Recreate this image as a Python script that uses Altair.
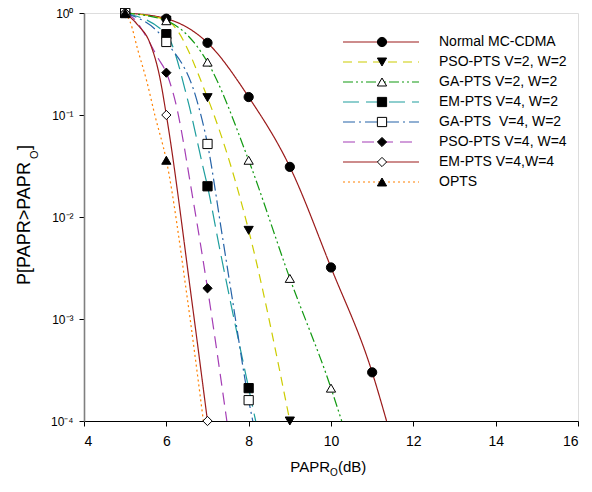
import altair as alt
import pandas as pd

# ---------------- data ----------------
series = ["Normal MC-CDMA", "PSO-PTS V=2, W=2", "GA-PTS V=2, W=2", "EM-PTS V=4, W=2",
          "GA-PTS\u00a0 V=4, W=2", "PSO-PTS V=4, W=4", "EM-PTS V=4,W=4", "OPTS"]

# marker points (integer PAPR0 values)
mk_x = [
    [5, 6, 7, 8, 9, 10, 11],
    [5, 6, 7, 8, 9],
    [5, 6, 7, 8, 9, 10],
    [5, 6, 7, 8],
    [5, 6, 7, 8],
    [5, 6, 7],
    [5, 6, 7],
    [5, 6],
]
mk_y = [
    [1, 0.88, 0.51, 0.15, 0.031, 0.0032, 0.0003],
    [1, 0.85, 0.148, 0.0074, 0.0001],
    [1, 0.84, 0.33, 0.036, 0.0025, 0.00021],
    [1, 0.62, 0.02, 0.00021],
    [1, 0.52, 0.052, 0.00016],
    [1, 0.26, 0.002],
    [1, 0.1, 0.0001],
    [1, 0.036],
]

# curve points (including where it leaves the plot at 1e-4)
ln_x = [
    [5, 6, 7, 8, 9, 10, 11, 11.35],
    [5, 6, 7, 8, 9],
    [5, 6, 7, 8, 9, 10, 10.26],
    [5, 6, 6.52, 6.89, 7, 7.3, 7.54, 8, 8.17],
    [5, 6, 6.74, 7, 7.35, 7.6, 8, 8.1],
    [5, 5.2, 5.53, 5.8, 6, 6.21, 6.65, 7, 7.47],
    [5, 5.31, 5.6, 5.84, 6, 6.62, 7],
    [5, 5.12, 5.31, 5.53, 5.72, 6, 6.5, 6.9],
]
ln_y = [
    [1, 0.88, 0.51, 0.15, 0.031, 0.0032, 0.0003, 0.0001],
    [1, 0.85, 0.148, 0.0074, 0.0001],
    [1, 0.84, 0.33, 0.036, 0.0025, 0.00021, 0.0001],
    [1, 0.62, 0.14, 0.031, 0.02, 0.0048, 0.0016, 0.00021, 0.0001],
    [1, 0.52, 0.14, 0.052, 0.0069, 0.0016, 0.00016, 0.0001],
    [1, 0.89, 0.57, 0.36, 0.26, 0.14, 0.0147, 0.002, 0.0001],
    [1, 0.76, 0.51, 0.235, 0.1, 0.0015, 0.0001],
    [1, 0.82, 0.43, 0.21, 0.1, 0.036, 0.0017, 0.0001],
]

x_ticks = [4, 6, 8, 10, 12, 14, 16]
y_ticks = [1e-4, 1e-3, 1e-2, 1e-1, 1]
y_tick_text = {0: "10\u2070", -1: "10\u207b\u00b9", -2: "10\u207b\u00b2",
               -3: "10\u207b\u00b3", -4: "10\u207b\u2074"}

# ---------------- styles ----------------
colors = ["#9B1B1B", "#CCCC00", "#119911", "#1E9E9E", "#2563A8", "#A43DB5", "#9B1B1B", "#FF8000"]
dashes = [[1, 0], [9, 6], [10, 3, 2, 3, 2, 3], [16, 7], [12, 4, 2, 4], [12, 7], [1, 0], [2, 3]]
shapes = ["circle", "triangle-down", "triangle-up", "square", "square", "diamond", "diamond", "triangle-up"]
fills = ["black", "black", "white", "black", "white", "black", "white", "black"]

FONT = "Liberation Sans"
W, H = 494, 408

lines_df = pd.DataFrame([
    {"series": s, "x": x, "y": y}
    for s, xs, ys in zip(series, ln_x, ln_y) for x, y in zip(xs, ys)
])
marks_df = pd.DataFrame([
    {"series": s, "x": x, "y": y}
    for s, xs, ys in zip(series, mk_x, mk_y) for x, y in zip(xs, ys)
])
legend_df = pd.DataFrame({"series": series, "row": list(range(len(series)))})

color_enc = alt.Color("series:N", scale=alt.Scale(domain=series, range=colors), legend=None)
dash_enc = alt.StrokeDash("series:N", scale=alt.Scale(domain=series, range=dashes), legend=None)
shape_enc = alt.Shape("series:N", scale=alt.Scale(domain=series, range=shapes), legend=None)
fill_enc = alt.Fill("series:N", scale=alt.Scale(domain=series, range=fills), legend=None)

xscale = alt.Scale(domain=[4, 16], nice=False, zero=False)
yscale = alt.Scale(type="log", domain=[1e-4, 1], nice=False)

expr = "'10'"
for e in [-4, -3, -2, -1, 0]:
    expr = f"round(log(datum.value)/LN10) == {e} ? '{y_tick_text[e]}' : " + expr

x_axis = alt.Axis(values=x_ticks, title=None, grid=False, tickSize=5, labelFontSize=14,
                  labelFont=FONT, labelColor="black", labelPadding=8,
                  domainColor="black", tickColor="black")
y_axis = alt.Axis(values=y_ticks, title=None, grid=False, tickSize=5, labelFontSize=12,
                  labelFont=FONT, labelColor="black", labelPadding=6,
                  domainColor="#7f7f7f", domainWidth=1.6, tickColor="black",
                  labelExpr=expr)

base_lines = alt.Chart(lines_df).mark_line(strokeWidth=1.2, interpolate="monotone").encode(
    x=alt.X("x:Q", scale=xscale, axis=x_axis),
    y=alt.Y("y:Q", scale=yscale, axis=y_axis),
    color=color_enc,
    strokeDash=dash_enc,
    detail="series:N",
)

base_marks = alt.Chart(marks_df).mark_point(filled=True, stroke="black", strokeWidth=1,
                                            size=85, opacity=1).encode(
    x=alt.X("x:Q", scale=xscale, axis=x_axis),
    y=alt.Y("y:Q", scale=yscale, axis=None),
    shape=shape_enc,
    fill=fill_enc,
)

leg_y = alt.Y("row:Q", scale=alt.Scale(domain=[0, 7], range=[29, 169], nice=False, zero=False),
              axis=None)

leg_rules = alt.Chart(legend_df).mark_rule(strokeWidth=1.2).encode(
    x=alt.value(259), x2=alt.value(335), y=leg_y, color=color_enc, strokeDash=dash_enc)
leg_marks = alt.Chart(legend_df).mark_point(filled=True, stroke="black", strokeWidth=1,
                                            size=85, opacity=1).encode(
    x=alt.value(298), y=leg_y, shape=shape_enc, fill=fill_enc)
leg_text = alt.Chart(legend_df).mark_text(align="left", baseline="middle", font=FONT,
                                          fontSize=14, color="black").encode(
    x=alt.value(355), y=leg_y, text="series:N")

# axis titles with subscript O
title_df = pd.DataFrame({"t": [0]})
def txt(text, x, y, size, angle=0, align="left"):
    return alt.Chart(title_df).mark_text(text=text, font=FONT, fontSize=size, angle=angle,
                                         align=align, baseline="alphabetic",
                                         color="black").encode(x=alt.value(x), y=alt.value(y))

xt1 = txt("PAPR", 246, 459, 15, align="right")
xt2 = txt("O", 246, 463, 10)
xt3 = txt("(dB)", 254, 459, 15)

yt1 = txt("P[PAPR>PAPR", -54, 272, 18, angle=270)
yt2 = txt("O", -46, 146, 11, angle=270)
yt3 = txt("]", -54, 137, 18, angle=270)

chart = alt.layer(
    base_lines, base_marks, leg_rules, leg_marks, leg_text,
    xt1, xt2, xt3, yt1, yt2, yt3,
).resolve_scale(y="independent").properties(
    width=W, height=H,
    padding={"left": 76, "top": 5, "right": 6, "bottom": 57},
    autosize=alt.AutoSizeParams(type="none"),
).configure_view(stroke="black", strokeWidth=1).configure(font=FONT)

chart.save("out.html", embed_options={"renderer": "svg", "actions": False})
